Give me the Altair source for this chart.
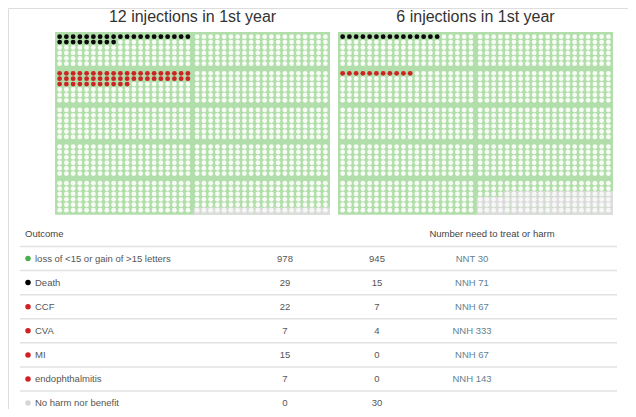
import altair as alt
import pandas as pd

# ---------------- data ----------------
panel_titles = ["12 injections in 1st year", "6 injections in 1st year"]
death_dots = [29, 15]      # black dots, first block
harm_dots = [51, 11]       # red dots, block in 2nd block-row
none_dots = [20, 76]       # grey cells, filled from the end

outcomes = ["loss of <15 or gain of >15 letters", "Death", "CCF", "CVA", "MI",
            "endophthalmitis", "No harm nor benefit"]
kinds = ["benefit", "death", "harm", "harm", "harm", "harm", "none"]
n12 = [978, 29, 22, 7, 15, 7, 0]
n6 = [945, 15, 7, 4, 0, 0, 30]
nn_label = ["NNT 30", "NNH 71", "NNH 67", "NNH 333", "NNH 67", "NNH 143", ""]

# ---------------- grid geometry (in dot units) ----------------
BC, BR = 20, 6            # dots per block (cols, rows)
NBC, NBR = 2, 5           # blocks per panel (cols, rows)
PANEL_DX = 41.93          # panel offset in x-units
MX, GX = 0.185, 0.37      # x margin / block gap
MY, GY = 0.37, 0.78       # y margin / block gap
PW = 2 * MX + NBC * BC + (NBC - 1) * GX
PH = 2 * MY + NBR * BR + (NBR - 1) * GY

rows = []
per_block = BC * BR
total = per_block * NBC * NBR
for p in range(2):
    for k in range(total):
        block, within = divmod(k, per_block)
        br, bc = divmod(block, NBC)
        r, c = divmod(within, BC)
        if block == 0 and within < death_dots[p]:
            cat = "death"
        elif block == 2 and within < harm_dots[p]:
            cat = "harm"
        elif k >= total - none_dots[p]:
            cat = "none"
        else:
            cat = "benefit"
        gc = bc * BC + c
        gr = br * BR + r
        ux = p * PANEL_DX + MX + 0.5 + gc + bc * GX
        uy = MY + 0.5 + gr + br * GY
        x1, x2 = ux - 0.5, ux + 0.5
        y1, y2 = uy - 0.5, uy + 0.5
        if gc == NBC * BC - 1:
            x2 = p * PANEL_DX + PW
        if gr == NBR * BR - 1:
            y2 = PH
        rows.append(dict(panel=p, cat=cat, ux=ux, uy=uy, x1=x1, x2=x2, y1=y1, y2=y2))
dots = pd.DataFrame(rows)

bg = pd.DataFrame({
    "x1": [p * PANEL_DX for p in range(2)],
    "x2": [p * PANEL_DX + PW for p in range(2)],
    "y1": [0.0, 0.0], "y2": [PH, PH],
})
titles = pd.DataFrame({"t": panel_titles,
                       "ux": [p * PANEL_DX + PW / 2 for p in range(2)],
                       "uy": [-2.85, -2.85]})

W, H = 620, 401
xs = alt.Scale(domain=[-6.963, 84.889], nice=False, zero=False)
ys = alt.Scale(domain=[-4.444, 69.81], nice=False, zero=False, reverse=True)
X = lambda f: alt.X(f, type="quantitative", scale=xs, axis=None)
Y = lambda f: alt.Y(f, type="quantitative", scale=ys, axis=None)

bg_layer = alt.Chart(bg).mark_rect(color="#b2deab").encode(
    x=X("x1"), x2="x2", y=Y("y1"), y2="y2")
grey_layer = alt.Chart(dots[dots.cat == "none"]).mark_rect(color="#dddddd").encode(
    x=X("x1"), x2="x2", y=Y("y1"), y2="y2")
dot_layer = alt.Chart(dots).mark_circle(size=23, opacity=1).encode(
    x=X("ux"), y=Y("uy"),
    color=alt.Color("cat:N", legend=None,
                    scale=alt.Scale(domain=["benefit", "death", "harm", "none"],
                                    range=["#f7fcf5", "#0a0a0a", "#cc2424", "#f7f7f7"])))
title_layer = alt.Chart(titles).mark_text(font="Liberation Sans", fontSize=16,
                                          color="#333333", baseline="middle").encode(
    x=X("ux"), y=Y("uy"), text="t:N")

top = alt.layer(bg_layer, grey_layer, dot_layer, title_layer)

# ---------------- table ----------------
tab = pd.DataFrame({"outcome": outcomes, "kind": kinds, "n12": n12, "n6": n6,
                    "nn": nn_label, "i": list(range(1, len(outcomes) + 1))})
tab["n12s"] = tab["n12"].astype(str)
tab["n6s"] = tab["n6"].astype(str)
hdr = pd.DataFrame({"i": [0, 0], "t": ["Outcome", "Number need to treat or harm"],
                    "pos": ["left", "right"]})
lines = pd.DataFrame({"i": [k + 0.5 for k in range(len(outcomes))]})

# row pitch 24.1 px, row 1 centred at chart y 250.5
PITCH, R1 = 24.1, 250.5
ts = alt.Scale(domain=[1 - R1 / PITCH, 1 + (H - R1) / PITCH], nice=False, zero=False,
               reverse=True)
TY = lambda f: alt.Y(f, type="quantitative", scale=ts, axis=None)
FONT = "Liberation Sans"

rule_layer = alt.Chart(lines).mark_rule(color="#e2e2e2", strokeWidth=1.5).encode(
    y=TY("i"), x=alt.value(12), x2=alt.value(609))
legend_dots = alt.Chart(tab).mark_circle(size=30, opacity=1).encode(
    x=alt.value(20), y=TY("i"),
    color=alt.Color("kind:N", legend=None,
                    scale=alt.Scale(domain=["benefit", "death", "harm", "none"],
                                    range=["#4cae4c", "#000000", "#d02020", "#d6d6d6"])))
name_layer = alt.Chart(tab).mark_text(font=FONT, fontSize=9.5, align="left",
                                      color="#555555").encode(
    x=alt.value(27), y=TY("i"), text="outcome:N")
n12_layer = alt.Chart(tab).mark_text(font=FONT, fontSize=9.5, align="center",
                                     color="#555555").encode(
    x=alt.value(277), y=TY("i"), text="n12s:N")
n6_layer = alt.Chart(tab).mark_text(font=FONT, fontSize=9.5, align="center",
                                    color="#555555").encode(
    x=alt.value(369), y=TY("i"), text="n6s:N")
nn_layer = alt.Chart(tab).mark_text(font=FONT, fontSize=9.5, align="center",
                                    color="#5f8291").encode(
    x=alt.value(464), y=TY("i"), text="nn:N")
h1 = alt.Chart(hdr[hdr.pos == "left"]).mark_text(font=FONT, fontSize=9.5, align="left",
                                                 color="#444444").encode(
    x=alt.value(17), y=TY("i"), text="t:N")
h2 = alt.Chart(hdr[hdr.pos == "right"]).mark_text(font=FONT, fontSize=9.5, align="center",
                                                  color="#444444").encode(
    x=alt.value(484), y=TY("i"), text="t:N")

table = alt.layer(rule_layer, legend_dots, name_layer, n12_layer, n6_layer, nn_layer, h1, h2)

chart = alt.layer(top, table).resolve_scale(y="independent", x="independent", color="independent").properties(
    width=W, height=H, padding=0, autosize=alt.AutoSizeParams(type="none")
).configure_view(stroke=None).configure(background="white")

chart.save("out.html", embed_options={"renderer": "svg", "actions": False})
